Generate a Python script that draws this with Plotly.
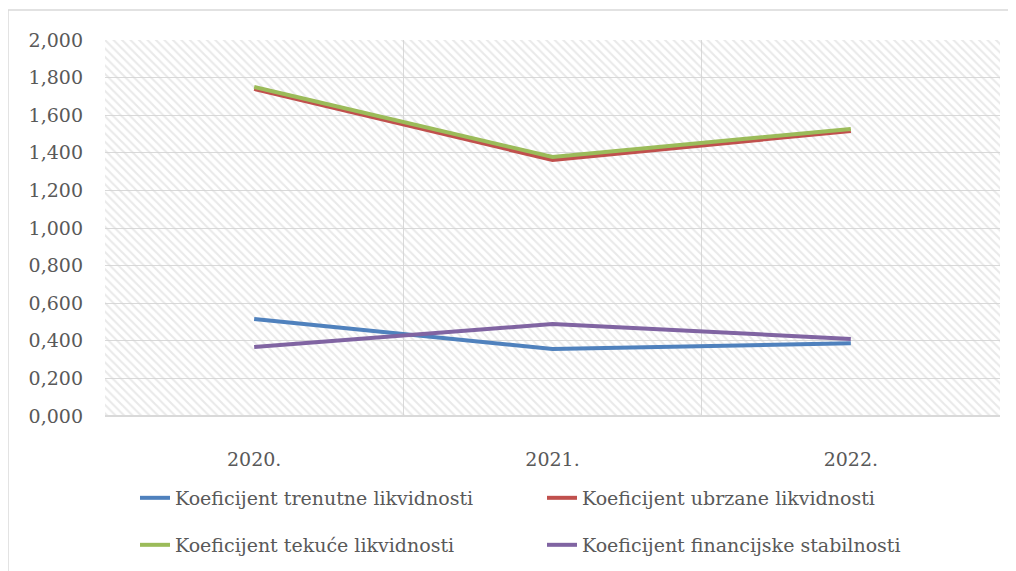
import plotly.graph_objects as go

# data
years = ["2020.", "2021.", "2022."]
trenutne = [0.516, 0.356, 0.387]
ubrzane = [1.740, 1.362, 1.516]
tekuce = [1.750, 1.378, 1.527]
financijske = [0.367, 0.489, 0.410]

series = [
    ("Koeficijent trenutne likvidnosti", trenutne, "#4f81bd", "legend"),
    ("Koeficijent ubrzane likvidnosti", ubrzane, "#c0504d", "legend"),
    ("Koeficijent tekuće likvidnosti", tekuce, "#9bbb59", "legend2"),
    ("Koeficijent financijske stabilnosti", financijske, "#8064a2", "legend2"),
]

FONT = "DejaVu Serif"
GRID = "#d9d9d9"
TXT = "#595959"

fig = go.Figure()

# hatched plot-area background (decorative, on hidden axes)
fig.add_trace(
    go.Bar(
        x=[0.5], y=[1], width=[1],
        xaxis="x", yaxis="y",
        marker=dict(
            color="rgba(0,0,0,0)",
            line=dict(width=0),
            pattern=dict(shape="\\", fgcolor="#d4d4d4", bgcolor="rgba(0,0,0,0)",
                         size=6, solidity=0.35),
        ),
        showlegend=False, hoverinfo="skip",
    )
)

for name, vals, color, leg in series:
    fig.add_trace(
        go.Scatter(
            x=years, y=vals, name=name, mode="lines",
            line=dict(color=color, width=4),
            xaxis="x2", yaxis="y2", legend=leg,
        )
    )

legend_common = dict(
    orientation="h", xanchor="left", yanchor="middle",
    font=dict(family=FONT, size=19, color=TXT),
    entrywidth=362, entrywidthmode="pixels",
    bgcolor="rgba(0,0,0,0)", borderwidth=0,
)

fig.update_layout(
    width=1008, height=563,
    margin=dict(l=97, r=16, t=32, b=155, autoexpand=False),
    paper_bgcolor="white", plot_bgcolor="white",
    separators=",.",
    bargap=0,
    xaxis=dict(range=[0, 1], visible=False, fixedrange=True),
    yaxis=dict(range=[0, 1], visible=False, fixedrange=True),
    xaxis2=dict(
        type="category", overlaying="x", anchor="y2",
        tickson="boundaries", showgrid=True, gridcolor=GRID, gridwidth=1,
        showline=False, ticks="", ticklabelstandoff=30,
        tickfont=dict(family=FONT, size=19, color=TXT),
        range=[-0.5, 2.5],
    ),
    yaxis2=dict(
        overlaying="y", anchor="x2", range=[0, 2], dtick=0.2,
        tickformat=".3f", showgrid=True, gridcolor=GRID, gridwidth=1,
        zeroline=False, showline=False, ticks="", ticklabelstandoff=21,
        tickfont=dict(family=FONT, size=19, color=TXT),
    ),
    legend=dict(x=0.0335, y=-0.218, **legend_common),
    legend2=dict(x=0.0335, y=-0.343, **legend_common),
    showlegend=True,
    shapes=[
        dict(type="rect", xref="paper", yref="paper",
             x0=-0.1084, x1=1.05, y0=-0.5, y1=1.0798,
             line=dict(color=GRID, width=1.5), fillcolor="rgba(0,0,0,0)",
             layer="below"),
        dict(type="line", xref="paper", yref="paper",
             x0=0, x1=1, y0=0, y1=0, line=dict(color=GRID, width=2)),
    ],
)

fig.write_html("out.html")
